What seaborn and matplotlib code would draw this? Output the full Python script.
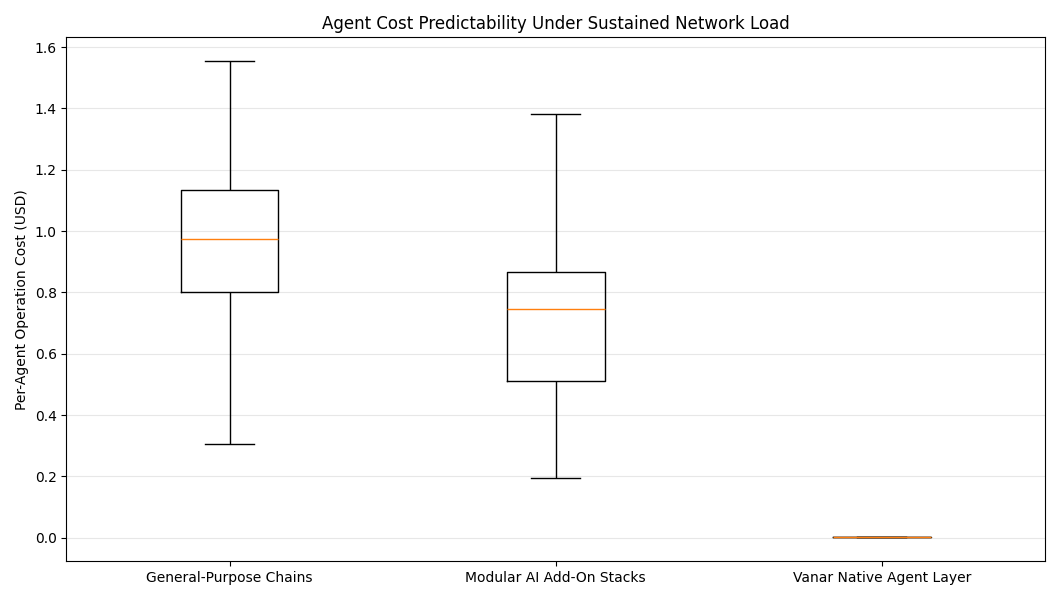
import matplotlib
matplotlib.use("Agg")
import matplotlib.pyplot as plt
import seaborn as sns
import pandas as pd

# five-number samples (min, q1, median, q3, max)
categories = ["General-Purpose Chains", "Modular AI Add-On Stacks", "Vanar Native Agent Layer"]
general_costs = [0.305, 0.801, 0.973, 1.133, 1.554]
modular_costs = [0.194, 0.510, 0.745, 0.866, 1.381]
vanar_costs = [0.0008, 0.0010, 0.0012, 0.0014, 0.0016]

df = pd.DataFrame({
    "chain": [categories[0]] * len(general_costs)
             + [categories[1]] * len(modular_costs)
             + [categories[2]] * len(vanar_costs),
    "cost": general_costs + modular_costs + vanar_costs,
})

fig, ax = plt.subplots(figsize=(10.6, 6), dpi=100)

sns.boxplot(data=df, x="chain", y="cost", order=categories, ax=ax,
            width=0.3, fill=False, color="black", linewidth=1.0,
            medianprops={"color": "#ff7f0e"})

ax.set_title("Agent Cost Predictability Under Sustained Network Load", fontsize=12)
ax.set_ylabel("Per-Agent Operation Cost (USD)")
ax.set_xlabel("")
ax.grid(axis="y", alpha=0.3)
ax.set_axisbelow(True)

plt.tight_layout()
plt.savefig("out.png")
